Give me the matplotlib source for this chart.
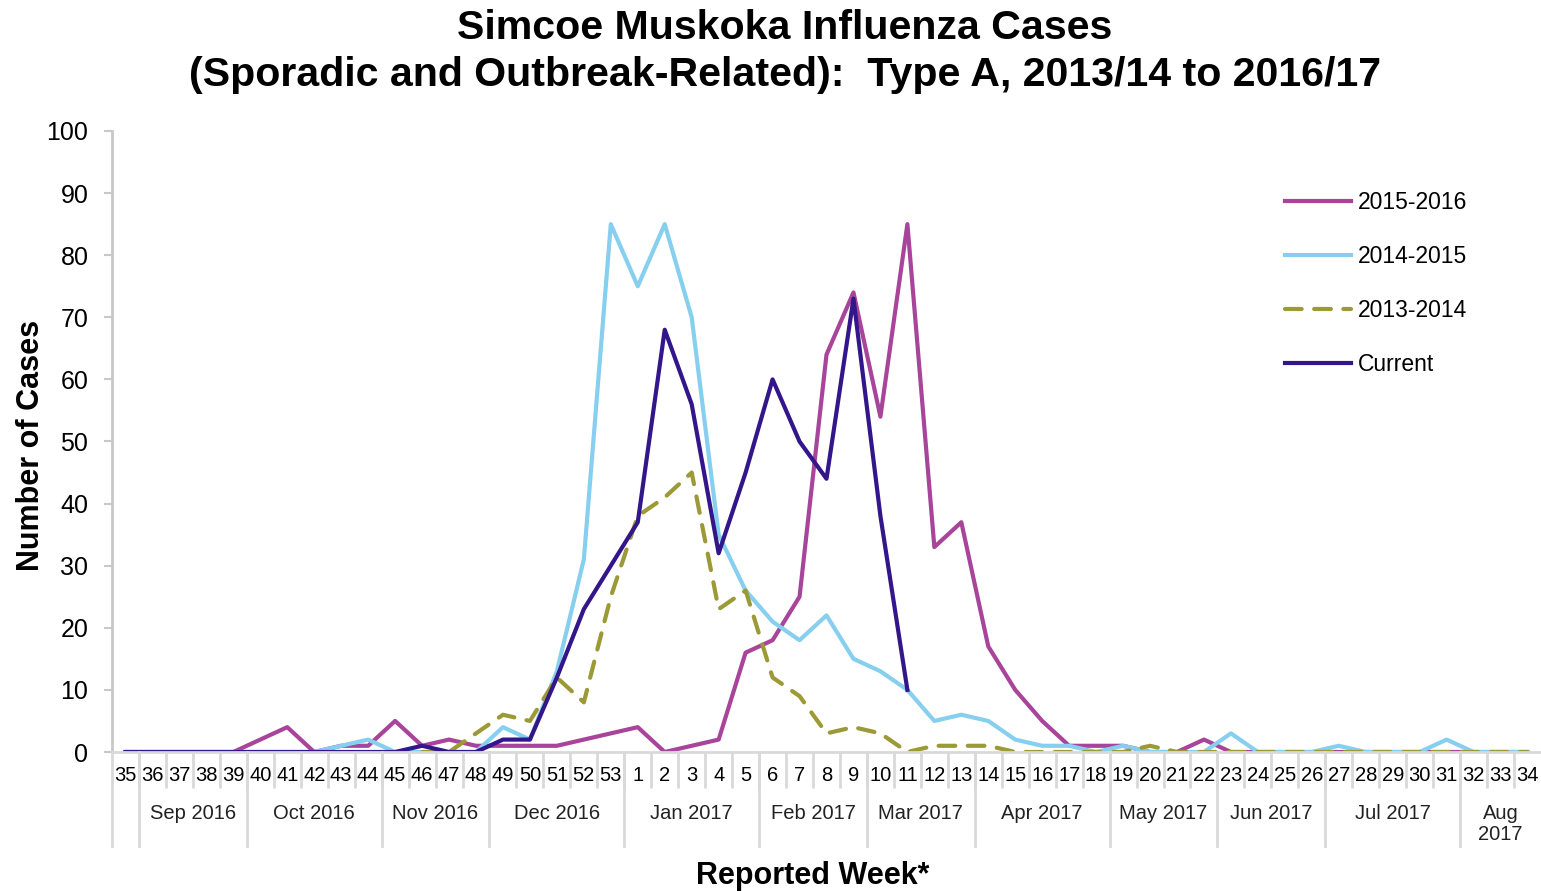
import matplotlib
matplotlib.use('Agg')
import matplotlib.pyplot as plt
import matplotlib.transforms as mtransforms

plt.rcParams['font.family'] = ['Liberation Sans', 'DejaVu Sans']

weeks = ['35', '36', '37', '38', '39', '40', '41', '42', '43', '44', '45', '46', '47', '48',
         '49', '50', '51', '52', '53', '1', '2', '3', '4', '5', '6', '7', '8', '9', '10', '11',
         '12', '13', '14', '15', '16', '17', '18', '19', '20', '21', '22', '23', '24', '25',
         '26', '27', '28', '29', '30', '31', '32', '33', '34']

# month groups: (label, number of weeks)
months = [('', 1), ('Sep 2016', 4), ('Oct 2016', 5), ('Nov 2016', 4), ('Dec 2016', 5),
          ('Jan 2017', 5), ('Feb 2017', 4), ('Mar 2017', 4), ('Apr 2017', 5),
          ('May 2017', 4), ('Jun 2017', 4), ('Jul 2017', 5), ('Aug\n2017', 3)]

s2015_16 = [0, 0, 0, 0, 0, 2, 4, 0, 1, 1, 5, 1, 2, 1, 1, 1, 1, 2, 3, 4, 0, 1, 2, 16, 18, 25,
            64, 74, 54, 85, 33, 37, 17, 10, 5, 1, 1, 1, 0, 0, 2, 0, 0, 0, 0, 0, 0, 0, 0, 0,
            0, 0, 0]
s2014_15 = [0, 0, 0, 0, 0, 0, 0, 0, 1, 2, 0, 0, 0, 0, 4, 2, 13, 31, 85, 75, 85, 70, 35, 26,
            21, 18, 22, 15, 13, 10, 5, 6, 5, 2, 1, 1, 0, 1, 0, 0, 0, 3, 0, 0, 0, 1, 0, 0, 0,
            2, 0, 0, 0]
# weeks 35-45 not drawn for 2013-2014
s2013_14 = [None, None, None, None, None, None, None, None, None, None, None,
            0, 0, 3, 6, 5, 12, 8, 25, 38, 41, 45, 23, 26, 12, 9, 3, 4, 3, 0, 1, 1, 1,
            0, 0, 0, 0, 0, 1, 0, 0, 0, 0, 0, 0, 0, 0, 0, 0, 0, 0, 0, 0]
current = [0, 0, 0, 0, 0, 0, 0, 0, 0, 0, 0, 1, 0, 0, 2, 2, 12, 23, 30, 37, 68, 56, 32, 45,
           60, 50, 44, 73, 38, 10]

x = list(range(len(weeks)))

fig = plt.figure(figsize=(15.41, 8.91), dpi=100)
ax = fig.add_axes([112 / 1541, 139 / 891, 1429 / 1541, 621 / 891])

ax.plot(x, s2015_16, color='#A8449A', lw=3, label='2015-2016')
ax.plot(x, s2014_15, color='#86CFEF', lw=3, label='2014-2015')
ax.plot(x, s2013_14, color='#9C9A36', lw=3, ls=(0, (4, 3)),
        dash_capstyle='round', label='2013-2014')
ax.plot(x[:len(current)], current, color='#33168A', lw=3, label='Current')

ax.set_xlim(-0.5, len(weeks) - 0.5)
ax.set_ylim(0, 100)
ax.set_yticks(range(0, 101, 10))
ax.tick_params(axis='y', labelsize=18, length=6, width=1.5, color='#C8C8C8', pad=11)

# week labels and short separators
ax.set_xticks(x)
ax.set_xticklabels(weeks)
ax.set_xticks([i + 0.5 for i in x[:-1]], minor=True)
ax.tick_params(axis='x', which='major', length=0, labelsize=14.5, pad=10)
ax.tick_params(axis='x', which='minor', length=26, width=2, color='#D9D9D9')

for side in ['top', 'right']:
    ax.spines[side].set_visible(False)
ax.spines['left'].set_color('#C8C8C8')
ax.spines['left'].set_linewidth(2)
ax.spines['bottom'].set_color('#D9D9D9')
ax.spines['bottom'].set_linewidth(2)

# month labels with long separators
trans = mtransforms.blended_transform_factory(ax.transData, ax.transAxes)
start = -0.5
for label, n in months:
    ax.plot([start, start], [0, -0.152], transform=trans, color='#D9D9D9', lw=2,
            clip_on=False)
    ax.text(start + n / 2, -0.083, label, transform=trans, ha='center', va='top',
            fontsize=14.5, color='#222222', linespacing=1.15)
    start += n

ax.text(0.49, -0.2, 'Reported Week*', transform=ax.transAxes, ha='center',
        va='center', fontsize=22, fontweight='bold')
fig.text(31 / 1541, 0.5, 'Number of Cases', rotation=90, ha='center', va='center',
         fontsize=22, fontweight='bold')
fig.text(785 / 1541, 0.99, 'Simcoe Muskoka Influenza Cases\n'
         '(Sporadic and Outbreak-Related):  Type A, 2013/14 to 2016/17',
         ha='center', va='top', fontsize=29.6, fontweight='bold', linespacing=1.3)

ax.legend(loc='upper left', bbox_to_anchor=(1264 / 1541, 0.809), bbox_transform=fig.transFigure,
          frameon=False, fontsize=16.5, handlelength=2.9, handletextpad=0.3,
          labelspacing=1.35)

fig.savefig('out.png', dpi=100)
